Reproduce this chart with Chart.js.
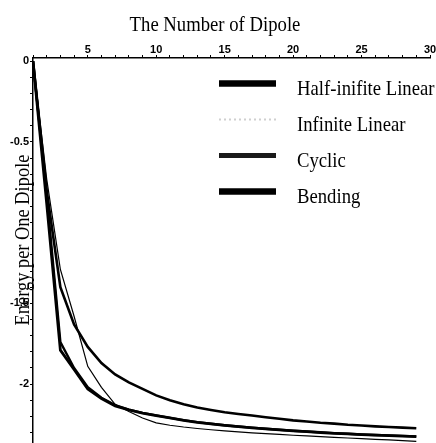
<!DOCTYPE html>
<html>
<head>
<meta charset="utf-8">
<script src="https://cdn.jsdelivr.net/npm/chart.js@4.4.0/dist/chart.umd.min.js"></script>
<style>
    body { margin: 0; background: #fff; }
    #wrap { width: 436px; height: 443px; }
</style>
</head>
<body>
<div id="wrap"><canvas id="myChart1"></canvas></div>
<script>
// number of dipoles (x)
var dipoles = [1, 2, 3, 4, 5, 6, 7, 8, 9, 10, 11, 12, 13, 14, 15, 16, 17, 18, 19, 20, 21, 22, 23, 24, 25, 26, 27, 28, 29];

// energy per one dipole
var halfInfinite = [0, -0.80, -1.40, -1.63, -1.77, -1.87, -1.94, -1.99, -2.03, -2.07, -2.10, -2.125, -2.145, -2.16, -2.175,
    -2.185, -2.195, -2.205, -2.215, -2.225, -2.232, -2.24, -2.245, -2.252, -2.257, -2.262, -2.266, -2.27, -2.274];
var infiniteLinear = [0, -0.73, -1.29, -1.58, -1.89, -2.02, -2.125, -2.17, -2.21, -2.24, -2.255, -2.266, -2.275, -2.283, -2.29,
    -2.296, -2.302, -2.307, -2.312, -2.317, -2.321, -2.325, -2.33, -2.334, -2.338, -2.342, -2.346, -2.35, -2.355];
var cyclic = [0, -0.83, -1.74, -1.90, -2.02, -2.085, -2.13, -2.158, -2.178, -2.194, -2.209, -2.223, -2.236, -2.246, -2.255,
    -2.263, -2.27, -2.277, -2.283, -2.289, -2.294, -2.299, -2.304, -2.308, -2.312, -2.315, -2.318, -2.321, -2.324];
var bending = [0, -0.88, -1.79, -1.91, -2.03, -2.09, -2.135, -2.16, -2.18, -2.195, -2.21, -2.225, -2.237, -2.247, -2.256,
    -2.264, -2.271, -2.278, -2.284, -2.29, -2.295, -2.30, -2.305, -2.309, -2.313, -2.316, -2.319, -2.322, -2.325];

var seriesNames = ['Half-inifite Linear', 'Infinite Linear', 'Cyclic', 'Bending'];
var xTitle = 'The Number of Dipole';
var yTitle = 'Energy per One Dipole';
var xTickLabels = ['5', '10', '15', '20', '25', '30'];
var yTickValues = [0, -0.5, -1, -1.5, -2];
var yTickLabels = ['0', '-0.5', '', '-1.5', '-2'];

function pts(ys) {
    return ys.map(function (y, i) { return { x: dipoles[i], y: y }; });
}

// minor ticks every 0.1 on the energy axis
var yMinor = [];
for (var k = 0; k <= 23; k++) yMinor.push(-k / 10);

var serif = '"Liberation Serif", "Times New Roman", serif';

// legend swatches as they look in the scan
var swatches = [
    { w: 6.5, color: '#000', dash: [] },
    { w: 2, color: '#cfcfcf', dash: [2, 3] },
    { w: 5, color: '#1a1a1a', dash: [] },
    { w: 6.5, color: '#000', dash: [] }
];

var textPlugin = {
    id: 'texts',
    afterDraw: function (chart) {
        var c = chart.ctx;
        c.save();
        c.fillStyle = '#000';
        c.textBaseline = 'alphabetic';
        c.font = '21px ' + serif;

        // title over the top axis
        c.save();
        c.translate(215, 31);
        c.scale(0.89, 1);
        c.textAlign = 'center';
        c.fillText(xTitle, 0, 0);
        c.restore();

        // legend
        chart.data.datasets.forEach(function (ds, i) {
            var y = 83.5 + i * 36;
            var s = swatches[i];
            c.save();
            c.strokeStyle = s.color;
            c.lineWidth = s.w;
            c.lineCap = 'butt';
            c.setLineDash(s.dash);
            c.beginPath();
            c.moveTo(219, y);
            c.lineTo(276, y);
            c.stroke();
            c.restore();

            c.save();
            c.translate(297, y + 11);
            c.scale(0.89, 1);
            c.textAlign = 'left';
            c.fillText(ds.label, 0, 0);
            c.restore();
        });

        // y axis title, drawn over the tick labels like the original
        c.save();
        c.translate(24, 240);
        c.rotate(-Math.PI / 2);
        c.scale(0.92, 1);
        c.font = '20px ' + serif;
        c.textAlign = 'center';
        c.textBaseline = 'middle';
        c.fillText(yTitle, 0, 0);
        c.restore();

        c.restore();
    }
};

var lineStyle = [
    { w: 2.6 },
    { w: 1.2 },
    { w: 2.4 },
    { w: 2.8 }
];
var series = [halfInfinite, infiniteLinear, cyclic, bending];

var ctx = document.getElementById('myChart1');
new Chart(ctx, {
    type: 'line',
    data: {
        datasets: series.map(function (s, i) {
            return {
                label: seriesNames[i],
                data: pts(s),
                borderColor: '#000',
                borderWidth: lineStyle[i].w,
                pointRadius: 0,
                tension: 0,
                fill: false
            };
        })
    },
    options: {
        responsive: true,
        maintainAspectRatio: false,
        animation: false,
        layout: { padding: { left: 0, right: 6, top: 0, bottom: 0 } },
        plugins: {
            legend: { display: false },
            title: { display: false },
            tooltip: { enabled: false }
        },
        scales: {
            x: {
                type: 'linear',
                position: 'top',
                min: 1,
                max: 30,
                afterFit: function (s) {
                    s.height = 58;
                    s.paddingLeft = 0;
                    s.paddingRight = 0;
                },
                ticks: {
                    stepSize: 1,
                    autoSkip: false,
                    minRotation: 0,
                    maxRotation: 0,
                    padding: -2,
                    color: '#000',
                    font: { family: 'Liberation Sans', size: 11, weight: 'bold' },
                    callback: function (v) {
                        return xTickLabels.indexOf(String(v)) >= 0 ? String(v) : '';
                    }
                },
                grid: { drawOnChartArea: false, tickLength: 3, color: '#000' },
                border: { color: '#000', width: 1.5 }
            },
            y: {
                type: 'linear',
                min: -2.365,
                max: 0.02,
                afterFit: function (s) {
                    s.width = 33;
                    s.paddingTop = 0;
                    s.paddingBottom = 0;
                },
                afterBuildTicks: function (s) {
                    s.ticks = yMinor.map(function (v) { return { value: v }; });
                },
                ticks: {
                    autoSkip: false,
                    minRotation: 0,
                    maxRotation: 0,
                    padding: 1,
                    color: '#000',
                    font: { family: 'Liberation Sans', size: 11, weight: 'bold' },
                    callback: function (v) {
                        for (var i = 0; i < yTickValues.length; i++) {
                            if (Math.abs(v - yTickValues[i]) < 1e-6) return yTickLabels[i];
                        }
                        return '';
                    }
                },
                grid: { drawOnChartArea: false, tickLength: 3, color: '#000' },
                border: { color: '#000', width: 1.5 }
            }
        }
    },
    plugins: [textPlugin]
});
</script>
</body>
</html>
